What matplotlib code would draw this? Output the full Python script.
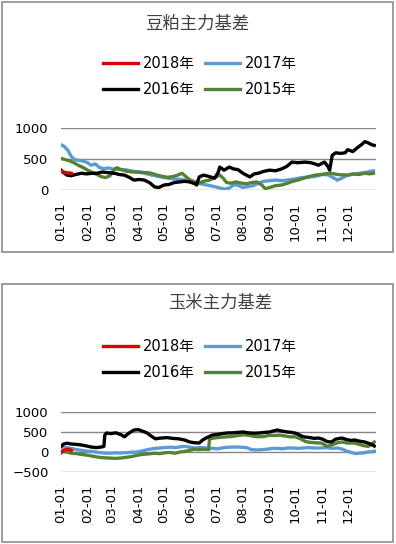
import numpy as np
import matplotlib
matplotlib.use("Agg")
import matplotlib.pyplot as plt
from matplotlib.patches import Rectangle

plt.rcParams['font.family'] = ['DejaVu Sans', 'Noto Sans CJK SC']

# 豆粕主力基差 (x = 距1月1日的天数)
sm18_d = [0, 3, 6, 9, 12]
sm18_v = [300, 290, 280, 275, 270]

sm17_d = [0, 4, 8, 12, 16, 20, 25, 31, 35, 40, 45, 50, 55, 60, 68, 76, 85, 92, 100, 108,
          115, 121, 130, 140, 150, 156, 163, 170, 177, 183, 190, 196, 202, 207, 212, 218,
          224, 230, 236, 243, 250, 258, 266, 273, 281, 289, 296, 304, 311, 317, 322, 327,
          334, 341, 348, 355, 364]
sm17_v = [730, 700, 640, 540, 490, 480, 470, 440, 400, 420, 360, 345, 355, 340, 330, 325,
          300, 290, 260, 235, 215, 200, 180, 170, 150, 120, 100, 80, 60, 40, 15, 30, 90, 70,
          40, 55, 70, 110, 140, 150, 160, 150, 165, 180, 200, 210, 220, 250, 245, 200, 160,
          190, 240, 255, 270, 285, 310]

sm16_d = [0, 3, 7, 12, 17, 24, 30, 36, 42, 48, 55, 62, 68, 74, 80, 85, 91, 97, 103, 109,
          114, 120, 126, 132, 138, 144, 150, 156, 158, 161, 166, 172, 179, 183, 185, 190,
          196, 201, 206, 212, 216, 220, 225, 230, 236, 243, 250, 257, 263, 269, 276, 284,
          291, 296, 300, 304, 307, 311, 313, 316, 320, 326, 331, 334, 340, 345, 350, 354,
          358, 362, 365]
sm16_v = [320, 280, 240, 230, 250, 270, 260, 270, 270, 290, 280, 270, 250, 240, 200, 160,
          170, 160, 120, 50, 40, 80, 90, 120, 130, 140, 130, 100, 80, 210, 240, 220, 190,
          280, 370, 320, 370, 340, 330, 270, 240, 210, 260, 270, 300, 320, 310, 340, 380,
          450, 440, 450, 440, 420, 400, 430, 450, 380, 320, 560, 600, 590, 600, 650, 620,
          680, 730, 780, 760, 730, 720]

sm15_d = [0, 5, 10, 15, 20, 26, 31, 37, 42, 47, 52, 57, 62, 65, 70, 77, 85, 93, 100, 105,
          112, 118, 124, 130, 136, 141, 146, 150, 156, 161, 166, 173, 179, 185, 189, 193,
          198, 204, 210, 216, 222, 228, 234, 238, 243, 250, 257, 264, 270, 276, 283, 290,
          296, 303, 310, 315, 322, 328, 334, 340, 347, 354, 360, 364]
sm15_v = [510, 490, 470, 440, 400, 360, 320, 280, 250, 215, 200, 230, 330, 360, 330, 300,
          290, 285, 280, 270, 240, 220, 205, 215, 240, 270, 210, 165, 130, 110, 140, 160,
          200, 240, 190, 120, 110, 130, 110, 100, 120, 130, 80, 20, 40, 70, 80, 110, 140,
          160, 190, 220, 240, 250, 265, 270, 250, 245, 240, 260, 250, 270, 260, 270]

# 玉米主力基差
c18_d = [0, 3, 6, 9, 12]
c18_v = [-20, 40, 60, 70, 40]

c17_d = [0, 6, 12, 18, 24, 31, 38, 44, 50, 57, 63, 70, 77, 83, 89, 95, 101, 109, 115, 121,
         127, 133, 139, 145, 150, 156, 163, 170, 176, 182, 190, 196, 203, 210, 216, 222,
         228, 234, 240, 246, 252, 258, 264, 270, 276, 282, 288, 295, 302, 310, 316, 322,
         328, 333, 338, 343, 348, 353, 358, 363, 365]
c17_v = [130, 110, 90, 60, 40, 20, 10, -10, -25, -30, -20, -25, -15, -5, 0, 30, 60, 90,
         100, 110, 120, 110, 130, 140, 120, 100, 110, 100, 90, 80, 110, 120, 125, 120, 110,
         60, 50, 60, 70, 90, 90, 80, 100, 100, 90, 100, 110, 100, 100, 110, 90, 100, 70,
         20, -10, -40, -30, -20, 0, 10, 20]

c16_d = [0, 3, 7, 12, 18, 24, 30, 35, 41, 47, 50, 51, 53, 58, 64, 70, 74, 79, 85, 90, 95,
         100, 105, 110, 117, 124, 130, 137, 144, 150, 156, 161, 165, 169, 176, 182, 188,
         193, 200, 206, 212, 218, 225, 231, 237, 243, 248, 252, 258, 264, 269, 275, 280,
         284, 290, 295, 300, 305, 310, 315, 320, 327, 333, 338, 342, 348, 354, 358, 363,
         365]
c16_v = [140, 200, 220, 200, 190, 175, 150, 125, 110, 125, 140, 420, 475, 460, 480, 430,
         380, 470, 550, 560, 520, 480, 400, 330, 350, 360, 340, 330, 300, 250, 230, 225,
         300, 350, 420, 440, 460, 475, 480, 490, 500, 480, 470, 475, 490, 500, 530, 550,
         520, 500, 490, 460, 400, 375, 360, 340, 350, 320, 260, 250, 320, 350, 310, 290,
         300, 270, 250, 220, 175, 150]

c15_d = [0, 6, 12, 18, 24, 31, 38, 44, 50, 56, 63, 70, 77, 83, 89, 95, 101, 109, 115, 121,
         127, 133, 139, 145, 150, 155, 161, 166, 172, 173, 176, 182, 188, 194, 200, 206,
         212, 218, 225, 231, 237, 243, 249, 255, 261, 267, 273, 279, 285, 291, 298, 304,
         310, 316, 322, 328, 334, 340, 346, 352, 358, 362, 365]
c15_v = [20, 0, -30, -40, -60, -80, -110, -130, -145, -150, -160, -150, -130, -110, -80,
         -60, -50, -30, -40, -20, -10, -30, 0, 20, 40, 70, 60, 70, 60, 320, 340, 360, 370,
         380, 390, 410, 430, 420, 390, 380, 390, 420, 410, 420, 400, 380, 380, 330, 260,
         240, 230, 220, 140, 180, 230, 250, 220, 230, 200, 160, 140, 200, 250]

month_ticks = [0, 31, 59, 90, 120, 151, 181, 212, 243, 273, 304, 334]
month_labels = ["01-01", "02-01", "03-01", "04-01", "05-01", "06-01",
                "07-01", "08-01", "09-01", "10-01", "11-01", "12-01"]

c_red = "#E00000"
c_blue = "#5B9BD5"
c_black = "#000000"
c_green = "#548235"

W, H = 396, 544
fig = plt.figure(figsize=(W / 100, H / 100), dpi=100)


def px_axes(left, top, right, bottom):
    return fig.add_axes([left / W, 1 - bottom / H, (right - left) / W, (bottom - top) / H])


def draw_panel(ax, series, ylim, yticks):
    for d, v, c, lab in series:
        ax.plot(d, v, color=c, lw=2.4, label=lab, solid_joinstyle='round')
    ax.set_xlim(0, 367)
    ax.set_ylim(*ylim)
    ax.set_yticks(yticks)
    ax.set_xticks(month_ticks)
    ax.set_xticklabels(month_labels, rotation=90, fontsize=9.5)
    ax.tick_params(axis='y', length=0, pad=9, labelsize=9.5)
    ax.tick_params(axis='x', length=0, pad=9)
    for s in ax.spines.values():
        s.set_visible(False)
    ax.grid(axis='y', color='#868686', lw=1)
    ax.set_axisbelow(True)


def add_legend(ax, yc):
    h, l = ax.get_legend_handles_labels()
    order = ["2018年", "2016年", "2017年", "2015年"]
    hh = [h[l.index(o)] for o in order]
    ax.legend(hh, order, ncol=2, loc='center', bbox_to_anchor=(0.505, yc),
              bbox_transform=fig.transFigure, frameon=False, fontsize=10.5,
              handlelength=2.4, handletextpad=0.35, columnspacing=0.7,
              labelspacing=0.75)


# 上图
ax1 = px_axes(61, 128, 376, 190)
draw_panel(ax1, [(sm17_d, sm17_v, c_blue, "2017年"),
                 (sm15_d, sm15_v, c_green, "2015年"),
                 (sm16_d, sm16_v, c_black, "2016年"),
                 (sm18_d, sm18_v, c_red, "2018年")],
           (0, 1000), [0, 500, 1000])
add_legend(ax1, 1 - 76.5 / H)
fig.text(197 / W, 1 - 24 / H, "豆粕主力基差", ha='center', va='center',
         fontsize=12.5, color='#404040', family=['Noto Sans CJK SC'])

# 下图
ax2 = px_axes(61, 412, 376, 472)
draw_panel(ax2, [(c17_d, c17_v, c_blue, "2017年"),
                 (c15_d, c15_v, c_green, "2015年"),
                 (c16_d, c16_v, c_black, "2016年"),
                 (c18_d, c18_v, c_red, "2018年")],
           (-500, 1000), [-500, 0, 500, 1000])
add_legend(ax2, 1 - 359.5 / H)
fig.text(220 / W, 1 - 303 / H, "玉米主力基差", ha='center', va='center',
         fontsize=12.5, color='#404040', family=['Noto Sans CJK SC'])

# 外框
for top, bottom in [(2, 252), (284, 542)]:
    fig.patches.append(Rectangle((2 / W, 1 - bottom / H), 391 / W, (bottom - top) / H,
                                 transform=fig.transFigure, fill=False,
                                 edgecolor='#8c8c8c', lw=1.2))

fig.savefig("out.png", dpi=100)
